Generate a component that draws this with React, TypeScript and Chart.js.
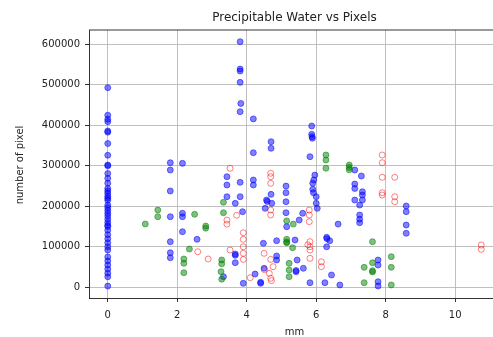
import React, { useEffect, useRef } from "react";
import { Chart, registerables } from "chart.js";

Chart.register(...registerables);

const titleText = "Precipitable Water vs Pixels";
const xLabel = "mm";
const yLabel = "number of pixel";
const xTicks = [0, 2, 4, 6, 8, 10];
const yTicks = [0, 100000, 200000, 300000, 400000, 500000, 600000];

const blueX = [
  0, 0, 0, 0, 0, 0, 0, 0, 0, 0, 0, 0, 0, 0, 0, 0, 0, 0, 0, 0, 0, 0, 0, 0, 0, 0, 0, 0, 0, 0, 0, 0, 0, 0, 0, 0, 0, 0, 0, 0, 0,
  1.8, 1.8, 1.8, 1.8, 1.8, 1.8, 1.8,
  2.15, 2.15, 2.15, 2.15,
  2.57, 3.33,
  3.43, 3.43, 3.43,
  3.67, 3.67, 3.67, 3.67,
  3.81, 3.81, 3.81, 3.81, 3.83, 3.81, 3.81, 3.81,
  3.88, 3.9,
  4.19, 4.19, 4.19, 4.19,
  4.24, 4.4, 4.4, 4.48, 4.5, 4.53, 4.57, 4.59,
  4.7, 4.7, 4.7, 4.72,
  4.86, 4.86, 4.86,
  5.13, 5.13, 5.13, 5.13, 5.15,
  5.39, 5.42, 5.42, 5.45, 5.51, 5.61, 5.63,
  5.82, 5.82,
  5.87, 5.87, 5.88, 5.89,
  5.96, 5.93, 5.9, 5.9, 5.92, 6.0, 6.0, 6.03,
  6.25, 6.3, 6.31, 6.3, 6.39, 6.44, 6.63, 6.68,
  7.11, 7.11, 7.11, 7.11,
  7.3, 7.33, 7.33, 7.33,
  7.25, 7.25, 7.25, 7.25,
  7.78, 7.78, 7.78, 7.78,
  8.59, 8.59, 8.59, 8.59,
];
const blueY = [
  493000, 425000, 415000, 409000, 386000, 383000, 355000, 326000, 302000, 300000, 281000, 269000, 257000, 244000,
  238000, 232000, 225000, 220000, 215000, 203000, 197000, 190000, 183000, 176000, 168000, 160000, 153000, 150000,
  141000, 130000, 120000, 110000, 100000, 92000, 75000, 65000, 55000, 45000, 35000, 26000, 3000,
  307600, 289600, 237800, 174300, 112600, 85400, 73100,
  306000, 182700, 174300, 137300,
  118500, 26200,
  273100, 252600, 223700,
  207400, 82200, 79000, 60700,
  606400, 539000, 534000, 506000, 454000, 433600, 259200, 223700,
  186700, 9900,
  415800, 332300, 264900, 252600,
  32800, 9900, 12500, 108600, 46900, 195000, 215500, 212000,
  359500, 343200, 229600, 207400,
  115000, 77300, 67400,
  250000, 233600, 211300, 184200, 149600,
  116800, 38500, 41500, 67400, 166000, 182700, 46900,
  322500, 11400,
  398200, 377700, 371800, 368000,
  277000, 265000, 256800, 242000, 233600, 223700, 207400, 195000,
  11400, 123400, 120000, 100000, 115000, 30400, 156000, 5700,
  289600, 255000, 244000, 215500,
  274800, 236000, 228000, 215500,
  203000, 178500, 168000, 159500,
  67400, 55000, 13800, 3200,
  200700, 186700, 153800, 133300,
];

const greenX = [
  1.08, 1.44, 1.44, 2.19, 2.19, 2.19, 2.35, 2.5, 2.82, 2.82,
  3.28, 3.28, 3.26, 3.28, 3.33, 3.33,
  5.15, 5.15, 5.15, 5.15, 5.22, 5.22, 5.22, 5.32, 5.34,
  6.28, 6.28, 6.28, 6.95, 6.95, 6.95,
  7.38, 7.38, 7.62, 7.62, 7.62, 7.62, 8.16, 8.16, 8.16,
];
const greenY = [
  156300, 190800, 174300, 69900, 59300, 36000, 94500, 180200, 151300, 146000,
  67400, 58000, 38500, 20000, 209900, 184200,
  164000, 118500, 112000, 110000, 59300, 42700, 26200, 97800, 156000,
  326600, 314300, 294000, 302000, 296000, 290000,
  49400, 11400, 112600, 60700, 41000, 38000, 75600, 49400, 5700,
];

const redX = [
  2.59, 2.89, 3.43, 3.43, 3.52, 3.52, 3.71,
  3.9, 3.9, 3.9, 3.9, 3.9,
  4.1, 4.5, 4.51, 4.65,
  4.69, 4.69, 4.69, 4.69, 4.69, 4.69, 4.69, 4.71, 4.76,
  5.8, 5.8, 5.8, 5.82, 5.82, 5.82, 5.82, 5.76,
  6.15, 6.15,
  7.9, 7.9, 7.9, 7.9, 7.9,
  8.26, 8.26, 8.26,
  10.75, 10.75,
];
const redY = [
  87900, 69900, 166000, 156000, 293800, 92000, 177800,
  134800, 118500, 100000, 83900, 69000,
  23700, 83900, 43500, 34600,
  281500, 273000, 256800, 190800, 178500, 69000, 22200, 16500, 50900,
  190800, 178500, 162000, 112600, 100300, 92000, 71600, 105000,
  63000, 50900,
  326600, 307600, 271600, 233600, 227900,
  271600, 223700, 211300,
  104400, 93800,
];

const pts = (xs: number[], ys: number[]) => xs.map((x, i) => ({ x, y: ys[i] }));

const FONT = "DejaVu Sans";

const decor = {
  id: "decor",
  afterDatasetsDraw(chart: any) {
    const { ctx, chartArea: a } = chart;
    ctx.save();
    ctx.strokeStyle = "#000";
    ctx.lineWidth = 0.8;
    ctx.beginPath();
    ctx.moveTo(a.left, a.top);
    ctx.lineTo(a.right, a.top);
    ctx.lineTo(a.right, a.bottom);
    ctx.stroke();
    ctx.fillStyle = "#222";
    ctx.textAlign = "center";
    ctx.textBaseline = "alphabetic";
    ctx.font = `12px "${FONT}"`;
    ctx.fillText(titleText, (a.left + a.right) / 2, 21);
    ctx.font = `10px "${FONT}"`;
    ctx.fillText(xLabel, (a.left + a.right) / 2, 335);
    ctx.translate(23, (a.top + a.bottom) / 2 + 1);
    ctx.rotate(-Math.PI / 2);
    ctx.fillText(yLabel, 0, 0);
    ctx.restore();
  },
};

export default function App() {
  const ref = useRef<HTMLCanvasElement | null>(null);
  useEffect(() => {
    if (!ref.current) return;
    const common = {
      grid: { color: "#b0b0b0", lineWidth: 0.8, tickColor: "#000", tickLength: 4, drawTicks: true },
      border: { color: "#000", width: 0.8 },
    };
    const chart = new Chart(ref.current, {
      type: "scatter",
      data: {
        datasets: [
          {
            label: "blue",
            data: pts(blueX, blueY),
            backgroundColor: "rgba(0,0,255,0.5)",
            borderColor: "rgba(0,0,255,0.5)",
            borderWidth: 1,
            pointRadius: 3,
            order: 3,
          },
          {
            label: "green",
            data: pts(greenX, greenY),
            backgroundColor: "rgba(0,128,0,0.5)",
            borderColor: "rgba(0,128,0,0.5)",
            borderWidth: 1,
            pointRadius: 3,
            order: 2,
          },
          {
            label: "red",
            data: pts(redX, redY),
            backgroundColor: "rgba(255,0,0,0)",
            borderColor: "rgba(255,0,0,0.5)",
            borderWidth: 1,
            pointRadius: 3,
            order: 1,
          },
        ],
      },
      options: {
        animation: false,
        responsive: false,
        devicePixelRatio: 1,
        layout: { padding: { top: 30, right: 4, left: 0, bottom: 0 } },
        plugins: { legend: { display: false }, title: { display: false }, tooltip: { enabled: false } },
        scales: {
          x: {
            type: "linear",
            min: -0.54,
            max: 11.29,
            afterBuildTicks: (s: any) => {
              s.ticks = xTicks.map((v) => ({ value: v }));
            },
            afterFit: (s: any) => {
              s.height = 39;
            },
            ...common,
            ticks: {
              font: { family: FONT, size: 10 },
              color: "#222",
              padding: 7,
              maxRotation: 0,
              autoSkip: false,
              callback: (v: any) => String(v),
            },
          },
          y: {
            type: "linear",
            min: -26400,
            max: 635300,
            afterBuildTicks: (s: any) => {
              s.ticks = yTicks.map((v) => ({ value: v }));
            },
            afterFit: (s: any) => {
              s.width = 89;
            },
            ...common,
            ticks: {
              font: { family: FONT, size: 10 },
              color: "#222",
              padding: 5,
              autoSkip: false,
              callback: (v: any) => String(v),
            },
          },
        },
      },
      plugins: [decor],
    } as any);
    return () => chart.destroy();
  }, []);
  return (
    <div style={{ position: "fixed", left: 0, top: 0, width: 493, height: 337, overflow: "hidden", background: "#fff" }}>
      <canvas ref={ref} width={505} height={337} style={{ width: 505, height: 337, display: "block" }} />
    </div>
  );
}
